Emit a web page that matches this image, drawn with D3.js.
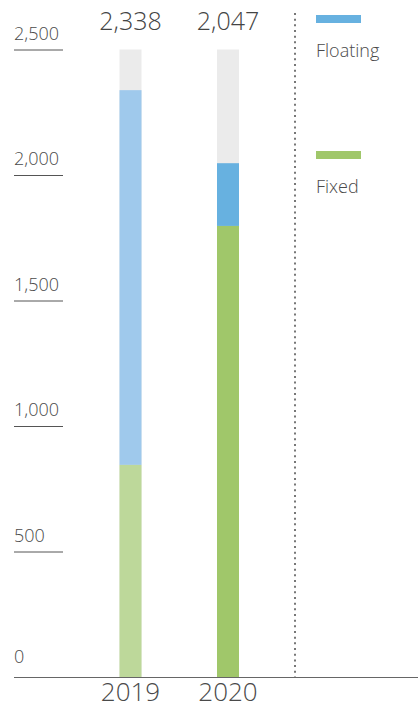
<!DOCTYPE html>
<html>
<head>
<meta charset="utf-8">
<script src="https://cdn.jsdelivr.net/npm/d3@7"></script>
<style>
  html, body { margin: 0; padding: 0; background: #fff; }
  svg { display: block; font-family: "Open Sans", sans-serif; }
</style>
</head>
<body>
<svg id="chart" width="418" height="709"></svg>
<script>
// Debt split by rate type (stacked bars on a full-scale grey track)
const years = ["2019", "2020"];
const fixed = [845, 1797];
const floating = [1493, 250];
const totals = [2338, 2047];
const tickValues = [0, 500, 1000, 1500, 2000, 2500];
const seriesNames = ["Floating", "Fixed"];

// bar colours per year: earlier year is drawn faded
const fixedColors = ["#bdd89a", "#a0c76a"];
const floatingColors = ["#9fc9ec", "#67b1e0"];
const legendColors = ["#67b1e0", "#a0c76a"];

const svg = d3.select("#chart");
const baseY = 677;

const y = d3.scaleLinear().domain([0, 2500]).range([baseY, 49.5]);
const x = d3.scalePoint().domain(years).range([130.5, 228]);
const barW = 22;

// y-axis labels with short underline rules
const ticks = svg.append("g").attr("class", "y-ticks");
tickValues.forEach(v => {
  const ty = y(v);
  if (v > 0) {
    ticks.append("line")
      .attr("x1", 14).attr("x2", 63)
      .attr("y1", ty + 0.5).attr("y2", ty + 0.5)
      .attr("stroke", "#555").attr("stroke-width", 1);
  }
  ticks.append("text")
    .attr("x", 14)
    .attr("y", ty - (v === 0 ? 14 : 10))
    .attr("font-size", 18)
    .attr("font-weight", 300)
    .attr("fill", "#4a4a4a")
    .text(d3.format(",")(v));
});

// grey full-scale track behind each bar
const bars = svg.append("g");
years.forEach((yr, i) => {
  const cx = x(yr);
  bars.append("rect")
    .attr("x", cx - barW / 2).attr("width", barW)
    .attr("y", y(2500)).attr("height", baseY - y(2500))
    .attr("fill", "#ebebeb");
  bars.append("rect")
    .attr("x", cx - barW / 2).attr("width", barW)
    .attr("y", y(fixed[i] + floating[i]))
    .attr("height", y(fixed[i]) - y(fixed[i] + floating[i]))
    .attr("fill", floatingColors[i]);
  bars.append("rect")
    .attr("x", cx - barW / 2).attr("width", barW)
    .attr("y", y(fixed[i]))
    .attr("height", baseY - y(fixed[i]))
    .attr("fill", fixedColors[i]);
  // total above the bar
  svg.append("text")
    .attr("x", cx).attr("y", 30)
    .attr("text-anchor", "middle")
    .attr("font-size", 25)
    .attr("font-weight", 300)
    .attr("fill", "#444")
    .text(d3.format(",")(totals[i]));
  // year label under the axis
  svg.append("text")
    .attr("x", cx).attr("y", 701)
    .attr("text-anchor", "middle")
    .attr("font-size", 26)
    .attr("font-weight", 300)
    .attr("fill", "#4a4a4a")
    .text(yr);
});

// baseline
svg.append("line")
  .attr("x1", 14).attr("x2", 418)
  .attr("y1", baseY + 0.5).attr("y2", baseY + 0.5)
  .attr("stroke", "#666").attr("stroke-width", 1);

// dotted divider between chart and legend
svg.append("line")
  .attr("x1", 295).attr("x2", 295)
  .attr("y1", 13).attr("y2", baseY)
  .attr("stroke", "#777").attr("stroke-width", 2)
  .attr("stroke-dasharray", "2,3.67");

// legend
const legendY = [15, 151];
seriesNames.forEach((name, i) => {
  svg.append("rect")
    .attr("x", 316).attr("y", legendY[i])
    .attr("width", 45).attr("height", 8)
    .attr("fill", legendColors[i]);
  svg.append("text")
    .attr("x", 316).attr("y", legendY[i] + 42)
    .attr("font-size", 18)
    .attr("font-weight", 300)
    .attr("fill", "#4a4a4a")
    .text(name);
});
</script>
</body>
</html>
